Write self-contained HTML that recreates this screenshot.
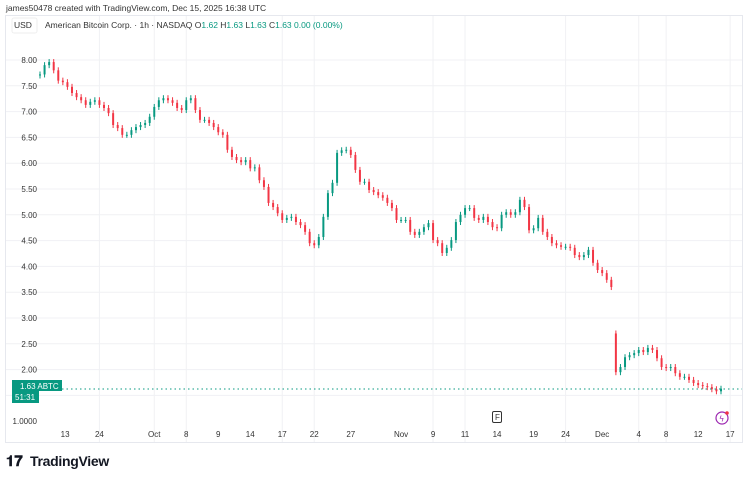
<!DOCTYPE html>
<html><head><meta charset="utf-8"><style>
body{margin:0;background:#fff;font-family:"Liberation Sans",sans-serif;}
#wrap{position:relative;width:745px;height:478px;overflow:hidden;}
svg text{font-family:"Liberation Sans",sans-serif;}
</style></head><body>
<div id="wrap">
<svg id="chart" width="745" height="478">
<text x="6" y="11" font-size="8.5" fill="#333">james50478 created with TradingView.com, Dec 15, 2025 16:38 UTC</text>
<rect x="5.5" y="15.5" width="737" height="427" fill="none" stroke="#e6e8ee"/>
<g id="grid"></g>
<g id="ylabels"></g>
<g id="xlabels"></g>
<g id="candles"></g>
<line x1="62" x2="742" y1="389" y2="389" stroke="#089981" stroke-width="1" stroke-dasharray="1.5 3"/>
<rect x="12" y="380" width="50" height="11" fill="#089981"/>
<rect x="12" y="391" width="27" height="12" fill="#089981"/>
<text x="20" y="389" font-size="8" fill="#fff">1.63  ABTC</text>
<text x="15" y="400" font-size="8" fill="#fff">51:31</text>
<rect x="12" y="18" width="25" height="15" rx="2" fill="#fff" stroke="#eee"/>
<text x="14" y="28" font-size="8.5" fill="#333">USD</text>
<text x="45" y="28" font-size="8.5" fill="#333">American Bitcoin Corp. · 1h · NASDAQ  <tspan fill="#333">O</tspan><tspan fill="#089981">1.62 </tspan><tspan fill="#333">H</tspan><tspan fill="#089981">1.63 </tspan><tspan fill="#333">L</tspan><tspan fill="#089981">1.63 </tspan><tspan fill="#333">C</tspan><tspan fill="#089981">1.63  0.00 (0.00%)</tspan></text>
<rect x="492.5" y="411.5" width="9" height="11" rx="1.5" fill="#fff" stroke="#333"/>
<text x="495" y="420" font-size="8" fill="#333">F</text>
<circle cx="722" cy="418" r="6" fill="none" stroke="#9c27b0" stroke-width="1.2"/>
<text x="719.5" y="421.5" font-size="8" fill="#9c27b0">ϟ</text>
<circle cx="727" cy="413" r="1.8" fill="#f23645"/>
<g>
<text x="6" y="466" font-size="15" font-weight="bold" fill="#131722">𝟏𝟕</text>
<text x="30" y="466" font-size="14" fill="#131722" font-weight="bold" letter-spacing="-0.3">TradingView</text>
</g>
</svg>
</div>
<script>
const closes=[7.72,7.9,7.96,7.8,7.6,7.57,7.48,7.36,7.28,7.22,
7.13,7.19,7.22,7.13,7.07,6.97,6.74,6.68,6.55,6.55,
6.64,6.7,6.74,6.78,6.9,7.09,7.22,7.26,7.22,7.17,
7.07,7.03,7.22,7.26,7.03,6.84,6.84,6.78,6.7,6.6,
6.55,6.26,6.12,6.06,6.02,6.06,5.9,5.92,5.67,5.54,
5.23,5.15,5.03,4.9,4.94,4.96,4.86,4.8,4.67,4.45,
4.41,4.57,4.96,5.42,5.62,6.2,6.25,6.26,6.16,5.87,
5.64,5.64,5.48,5.44,5.38,5.33,5.23,5.13,4.9,4.9,
4.9,4.67,4.61,4.67,4.76,4.84,4.51,4.45,4.26,4.36,
4.51,4.86,5.0,5.13,5.13,4.94,4.9,4.96,4.86,4.76,
4.74,5.0,5.05,5.0,5.05,5.29,5.15,4.7,4.74,4.94,
4.67,4.57,4.45,4.41,4.38,4.38,4.36,4.22,4.18,4.22,
4.32,4.07,3.93,3.87,3.74,3.6,
1.95,2.05,2.24,2.28,2.32,2.38,2.34,2.42,2.38,2.22,2.05,2.03,2.05,1.93,1.86,1.86,1.8,1.74,1.7,1.68,1.66,1.62,1.58,1.63];
const firstOpen=7.7;
const gapIndex=126;
const gapOpen=2.7;
const yTicks=[8.0,7.5,7.0,6.5,6.0,5.5,5.0,4.5,4.0,3.5,3.0,2.5,2.0,1.5];
const yTickLabels=["8.00","7.50","7.00","6.50","6.00","5.50","5.00","4.50","4.00","3.50","3.00","2.50","2.00","1.50"];
const xTickLabels=["13","24","Oct","8","9","14","17","22","27","Nov","9","11","14","19","24","Dec","4","8","12","17"];
const xTickBars=[5.5,13,25,32,39,46,53,60,68,79,86,93,100,108,115,123,131,137,144,151];

const NS="http://www.w3.org/2000/svg";
function y(v){return 60+(8-v)*51.6;}
function x(i){return 40+i*(681/(closes.length-1));}
function mk(tag,attrs,parent){const e=document.createElementNS(NS,tag);for(const k in attrs)e.setAttribute(k,attrs[k]);parent.appendChild(e);return e;}
const grid=document.getElementById('grid'),yl=document.getElementById('ylabels'),xl=document.getElementById('xlabels'),cg=document.getElementById('candles');
yTicks.forEach((v,i)=>{
  const l=mk('line',{x1:6,x2:742,y1:y(v),y2:y(v),stroke:'#f0f1f4'},grid);
  
  
  const t=mk('text',{x:37,y:y(v)+3,'font-size':8,fill:'#333','text-anchor':'end'},yl);
  t.textContent=yTickLabels[i];
  
  
});
const t1=mk('text',{x:37,y:y(1.0)+3,'font-size':8,fill:'#333','text-anchor':'end'},yl);
t1.textContent="1.0000";


xTickLabels.forEach((s,i)=>{
  const px=x(xTickBars[i]);
  if([1,2,3,6,7,10,11,14,16,17,19].includes(i)){
    const g=mk('line',{x1:px,x2:px,y1:16,y2:442,stroke:'#f0f1f4'},grid);
    
    
  }
  const t=mk('text',{x:px,y:437,'font-size':8,fill:'#333','text-anchor':'middle'},xl);
  t.textContent=s;
  
  
});
const w=2;
closes.forEach((c,i)=>{
  const o=i===0?firstOpen:(i===gapIndex?gapOpen:closes[i-1]);
  const col=c>=o?'#089981':'#f23645';
  const top=y(Math.max(o,c)),bot=y(Math.min(o,c));
  const wk=mk('line',{x1:x(i),x2:x(i),y1:top-3,y2:bot+3,stroke:col,'stroke-width':1},cg);
  
  
  const r=mk('rect',{x:x(i)-w/2,y:top,width:w,height:Math.max(1,bot-top),fill:col},cg);
  
  
});
</script>
</body></html>
